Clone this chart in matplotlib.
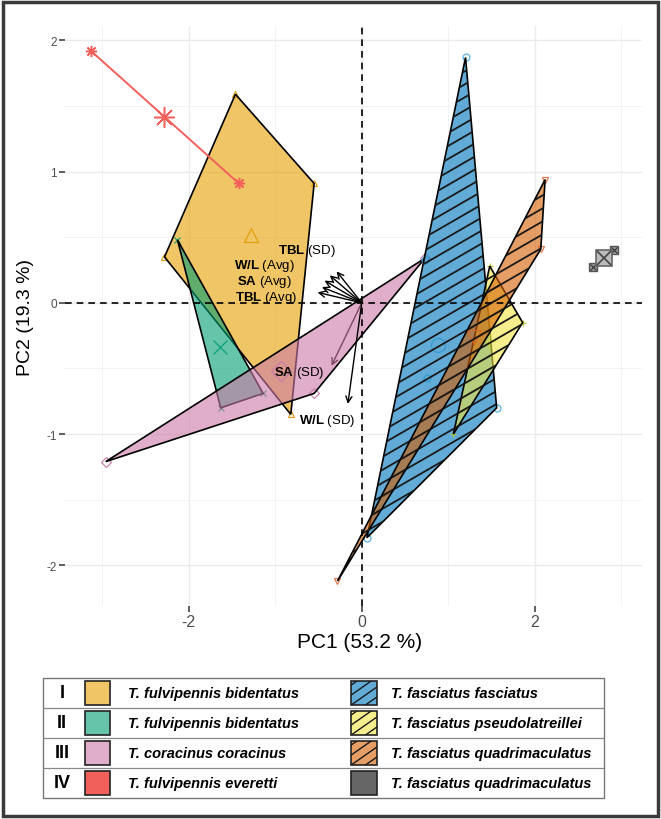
import numpy as np
import matplotlib
matplotlib.use('Agg')
import matplotlib.pyplot as plt
from matplotlib.patches import Polygon, Rectangle
from matplotlib.collections import LineCollection
from matplotlib.colors import to_rgba

plt.rcParams['font.family'] = ['Liberation Sans', 'DejaVu Sans']
plt.rcParams['mathtext.fontset'] = 'custom'
plt.rcParams['mathtext.rm'] = 'Liberation Sans'
plt.rcParams['mathtext.bf'] = 'Liberation Sans:bold'
plt.rcParams['axes.unicode_minus'] = False

# group scores (PC1, PC2)
fb1_x = [-1.46, -0.55, -0.82, -2.28]
fb1_y = [1.59, 0.91, -0.85, 0.35]
fb2_x = [-2.13, -1.63, -1.14]
fb2_y = [0.48, -0.80, -0.69]
cor_x = [-2.96, 0.73, -0.55]
cor_y = [-1.21, 0.34, -0.69]
eve_x = [-3.13, -1.42]
eve_y = [1.92, 0.91]
fas_x = [1.20, 1.56, 0.06, 0.73, 0.75]
fas_y = [1.87, -0.80, -1.79, 0.33, -0.57]
pse_x = [1.48, 1.86, 1.06]
pse_y = [0.28, -0.15, -1.00]
qua_x = [2.12, 2.07, -0.28]
qua_y = [0.94, 0.41, -2.12]
qu2_x = [2.67, 2.92]
qu2_y = [0.27, 0.40]

# group centroids
cent_x = [-1.28, -1.64, -0.93, -2.28, 0.88, 1.47, 1.30, 2.80]
cent_y = [0.52, -0.34, -0.52, 1.42, -0.32, -0.29, -0.26, 0.34]

# loading vectors
arrow_x = [-0.29, -0.37, -0.43, -0.46, -0.51, -0.35, -0.16]
arrow_y = [0.24, 0.21, 0.17, 0.12, 0.08, -0.48, -0.77]
label_text = [r'$\mathbf{TBL}$ (SD)', r'$\mathbf{W/L}$ (Avg)', r'$\mathbf{SA}$ (Avg)',
              r'$\mathbf{TBL}$ (Avg)', r'$\mathbf{SA}$ (SD)', r'$\mathbf{W/L}$ (SD)']
label_x = [-0.63, -1.12, -1.13, -1.10, -0.72, -0.40]
label_y = [0.40, 0.285, 0.165, 0.045, -0.525, -0.89]

roman = ['I', 'II', 'III', 'IV']
left_names = ['T. fulvipennis bidentatus', 'T. fulvipennis bidentatus',
              'T. coracinus coracinus', 'T. fulvipennis everetti']
right_names = ['T. fasciatus fasciatus', 'T. fasciatus pseudolatreillei',
               'T. fasciatus quadrimaculatus', 'T. fasciatus quadrimaculatus']


def convex_hull(xs, ys):
    pts = sorted(set(zip(xs, ys)))
    if len(pts) < 3:
        return pts

    def cross(o, a, b):
        return (a[0] - o[0]) * (b[1] - o[1]) - (a[1] - o[1]) * (b[0] - o[0])
    lower, upper = [], []
    for p in pts:
        while len(lower) >= 2 and cross(lower[-2], lower[-1], p) <= 0:
            lower.pop()
        lower.append(p)
    for p in reversed(pts):
        while len(upper) >= 2 and cross(upper[-2], upper[-1], p) <= 0:
            upper.pop()
        upper.append(p)
    return lower[:-1] + upper[:-1]


def add_hatch(ax, patch, w_px, h_px, gap, angle=30, lw=1.3):
    # diagonal lines in axes fraction, clipped to the patch
    slope = np.tan(np.radians(angle))
    cs = np.arange(-slope * w_px, h_px + gap, gap)
    segs = [[(0, c / h_px), (1, (c + slope * w_px) / h_px)] for c in cs]
    lc = LineCollection(segs, colors='#1a1a1a', linewidths=lw,
                        transform=ax.transAxes, zorder=patch.get_zorder() + 0.05)
    ax.add_collection(lc, autolim=False)
    lc.set_clip_path(patch)


W, H = 661, 820
fig = plt.figure(figsize=(W / 100, H / 100), dpi=100)
ax_w, ax_h = 577, 580
ax = fig.add_axes([65 / W, 213 / H, ax_w / W, ax_h / H])

groups = [
    (fb1_x, fb1_y, '#E69F00', '^', False),
    (fb2_x, fb2_y, '#009E73', 'x', False),
    (cor_x, cor_y, '#CC79A7', 'D', False),
    (fas_x, fas_y, '#2C8FC9', 'o', True),
    (pse_x, pse_y, '#F0E442', '+', True),
    (qua_x, qua_y, '#D55E00', 'v', True),
]
mark_cols = ['#E0A020', '#1FA57E', '#C985AE', '#56B4E9', '#B5C93A', '#E07A50']

# loadings (drawn under the hulls so the pink hull tints one of them)
for i, (ax_, ay_) in enumerate(zip(arrow_x, arrow_y)):
    z = 1.5 if i == 5 else 6
    ax.annotate('', xy=(ax_, ay_), xytext=(0, 0),
                arrowprops=dict(arrowstyle='->', lw=1.0, color='black',
                                mutation_scale=11, shrinkA=0, shrinkB=0),
                zorder=z)

for k, (xs, ys, col, mk, hatched) in enumerate(groups):
    z = 2 + k * 0.3
    ci = k if k < 3 else k + 1
    ax.plot(xs, ys, ls='none', marker=mk, ms=5, mfc='none', mec=mark_cols[k],
            mew=0.9, zorder=z - 0.1)
    ax.plot(cent_x[ci], cent_y[ci], marker=mk, ms=10, mfc='none', mec=mark_cols[k],
            mew=0.9, zorder=z - 0.1)
    hull = convex_hull(xs, ys)
    alpha = 0.75 if k == 3 else 0.6
    poly = Polygon(hull, closed=True, facecolor=to_rgba(col, alpha),
                   edgecolor='black', lw=1.2, zorder=z)
    ax.add_patch(poly)
    if hatched:
        add_hatch(ax, poly, ax_w, ax_h, gap=13)

# T. fulvipennis everetti
ax.plot(eve_x, eve_y, color='#F2605C', lw=1.4, zorder=8)
ax.plot(eve_x, eve_y, ls='none', marker=(8, 2, 0), ms=8, mec='#F2605C', mew=1.1, zorder=8)
ax.plot(cent_x[3], cent_y[3], marker=(8, 2, 0), ms=15, mec='#F2605C', mew=1.1, zorder=8)

# second T. fasciatus quadrimaculatus group
ax.plot(qu2_x, qu2_y, color='#222222', lw=1.1, zorder=8)
ax.plot(qu2_x, qu2_y, ls='none', marker='s', ms=6, mfc='#999999', mec='#555555', zorder=8)
ax.plot(qu2_x, qu2_y, ls='none', marker='x', ms=5, mec='#333333', mew=0.8, zorder=8)
ax.plot(cent_x[7], cent_y[7], marker='s', ms=11, mfc='#bbbbbb', mec='#666666', mew=1.2, zorder=8)
ax.plot(cent_x[7], cent_y[7], marker='x', ms=10, mec='#444444', mew=1.2, zorder=8)

ax.axhline(0, color='black', ls=(0, (4, 3)), lw=1.2, zorder=5)
ax.axvline(0, color='black', ls=(0, (4, 3)), lw=1.2, zorder=5)

for t, lx, ly in zip(label_text, label_x, label_y):
    ax.text(lx, ly, t, ha='center', va='center', fontsize=9.5, color='black', zorder=9)

ax.set_xlim(-3.43, 3.24)
ax.set_ylim(-2.31, 2.11)
ax.set_xticks([-2, 0, 2])
ax.set_xticks([-3, -1, 1, 3], minor=True)
ax.set_yticks([-2, -1, 0, 1, 2])
ax.set_yticks([-1.5, -0.5, 0.5, 1.5], minor=True)
ax.grid(which='major', color='#EBEBEB', lw=1.0, zorder=0)
ax.grid(which='minor', color='#F3F3F3', lw=0.7, zorder=0)
ax.set_axisbelow(True)
for s in ax.spines.values():
    s.set_visible(False)
ax.tick_params(which='major', length=4, width=1.1, color='#333333', labelcolor='#4D4D4D', pad=2)
ax.tick_params(which='minor', length=0)
ax.tick_params(axis='x', labelsize=11.5)
ax.tick_params(axis='y', labelsize=8.5)

fig.text(360 / W, 1 - 642 / H, 'PC1 (53.2 %)', ha='center', va='center', fontsize=15)
fig.text(26 / W, 1 - 318 / H, 'PC2 (19.3 %)', ha='center', va='center', fontsize=14, rotation=90)

# legend table
lw_px, lh_px = 561, 120
lg = fig.add_axes([43 / W, 21 / H, lw_px / W, lh_px / H])
lg.set_xlim(0, lw_px)
lg.set_ylim(0, lh_px)
lg.axis('off')
lg.add_patch(Rectangle((0, 0), lw_px, lh_px, fill=False, ec='#777777', lw=1.0, clip_on=False))
left_cols = ['#E69F00', '#009E73', '#CC79A7', '#F2605C']
left_alpha = [0.6, 0.6, 0.6, 1.0]
right_cols = ['#2C8FC9', '#F0E442', '#D55E00', '#666666']
right_alpha = [0.75, 0.6, 0.6, 1.0]
for i in range(4):
    yc = lh_px - 15 - 30 * i
    if i > 0:
        lg.plot([0, lw_px], [lh_px - 30 * i] * 2, color='#888888', lw=0.9)
    lg.text(19, yc, roman[i], ha='center', va='center', fontsize=13,
            fontweight='bold', family='Liberation Sans')
    lg.add_patch(Rectangle((42, yc - 12), 25, 24, fc=to_rgba(left_cols[i], left_alpha[i]),
                           ec='#222222', lw=1.2))
    lg.text(85, yc, left_names[i], ha='left', va='center', fontsize=10.5,
            fontweight='bold', style='italic', family='Liberation Sans')
    sw = Rectangle((308, yc - 12), 26, 24, fc=to_rgba(right_cols[i], right_alpha[i]),
                   ec='#222222', lw=1.2)
    lg.add_patch(sw)
    if i < 3:
        add_hatch(lg, sw, lw_px, lh_px, gap=10, angle=35, lw=1.0)
    lg.text(348, yc, right_names[i], ha='left', va='center', fontsize=10.5,
            fontweight='bold', style='italic', family='Liberation Sans')

fig.add_artist(Rectangle((3 / W, 3 / H), 655 / W, 814 / H, transform=fig.transFigure,
                         fill=False, ec='#3a3a3a', lw=2.5))

fig.savefig('out.png', dpi=100)
